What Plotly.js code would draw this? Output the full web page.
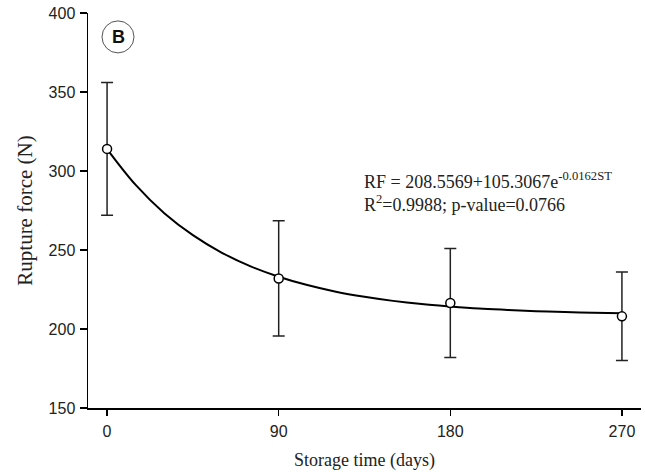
<!DOCTYPE html>
<html>
<head>
<meta charset="utf-8">
<script src="https://cdn.plot.ly/plotly-3.0.1.min.js"></script>
<style>html,body{margin:0;padding:0;background:#fff;}#chart{width:645px;height:475px;}</style>
</head>
<body>
<div id="chart"></div>
<script>
const storageDays = [0, 90, 180, 270];
const ruptureForce = [314, 232, 216.5, 208];
const ruptureSD = [42, 36.5, 34.5, 28];

// Fitted curve
const curveDays = [0, 15, 30, 45, 60, 75, 90, 105, 120, 135, 150, 165, 180, 195, 210, 225, 240, 255, 270];
const curveForce = [313.9, 291.2, 273.3, 259.4, 248.4, 239.8, 233.1, 227.8, 223.6, 220.4, 217.8, 215.8, 214.3, 213.0, 212.1, 211.3, 210.7, 210.3, 209.9];

const xTicks = [0, 90, 180, 270];
const yTicks = [150, 200, 250, 300, 350, 400];

const traces = [
  {
    x: curveDays, y: curveForce, type: 'scatter', mode: 'lines',
    line: {color: '#000', width: 2, shape: 'spline'},
    hoverinfo: 'skip', showlegend: false
  },
  {
    x: storageDays, y: ruptureForce, type: 'scatter', mode: 'markers',
    marker: {symbol: 'circle', size: 9, color: '#fff', line: {color: '#000', width: 1.5}},
    error_y: {type: 'data', array: ruptureSD, visible: true, color: '#222', thickness: 1.5, width: 6},
    showlegend: false
  }
];

const layout = {
  width: 645, height: 475,
  margin: {l: 88, r: 4, t: 13, b: 67},
  paper_bgcolor: '#fff', plot_bgcolor: '#fff',
  showlegend: false,
  xaxis: {
    range: [-10, 280], tickvals: xTicks, ticktext: xTicks.map(String),
    showgrid: false, zeroline: false, showline: true, linecolor: '#000', linewidth: 1.5,
    ticks: 'outside', ticklen: 6, tickwidth: 1.2, tickcolor: '#000', ticklabelstandoff: 2,
    tickfont: {family: 'Liberation Sans', size: 16, color: '#222'},
    title: {text: 'Storage time (days)', font: {family: 'Liberation Serif', size: 18, color: '#222'}, standoff: 14}
  },
  yaxis: {
    range: [150, 400], tickvals: yTicks, ticktext: yTicks.map(String),
    showgrid: false, zeroline: false, showline: true, linecolor: '#000', linewidth: 1.5,
    ticks: 'outside', ticklen: 7, tickwidth: 1.2, tickcolor: '#000', ticklabelstandoff: 1,
    tickfont: {family: 'Liberation Sans', size: 16, color: '#222'},
    title: {text: 'Rupture force (N)', font: {family: 'Liberation Serif', size: 21, color: '#222'}, standoff: 10}
  },
  shapes: [
    {type: 'circle', xref: 'paper', yref: 'paper', x0: 0.0253, x1: 0.0832, y0: 0.899, y1: 0.98,
     line: {color: '#555', width: 1}, fillcolor: 'rgba(0,0,0,0)'}
  ],
  annotations: [
    {xref: 'paper', yref: 'paper', x: 0.0543, y: 0.9395, text: '<b>B</b>', showarrow: false,
     font: {family: 'Liberation Sans', size: 18, color: '#111'}, xanchor: 'center', yanchor: 'middle'},
    {xref: 'paper', yref: 'paper', x: 0.495, y: 0.548, xanchor: 'left', yanchor: 'middle', align: 'left',
     showarrow: false,
     text: 'RF = 208.5569+105.3067e<sup>-0.0162ST</sup><br>R<sup>2</sup>=0.9988; p-value=0.0766',
     font: {family: 'Liberation Serif', size: 18, color: '#222'}}
  ]
};

Plotly.newPlot('chart', traces, layout, {displayModeBar: false, staticPlot: true});
</script>
</body>
</html>
